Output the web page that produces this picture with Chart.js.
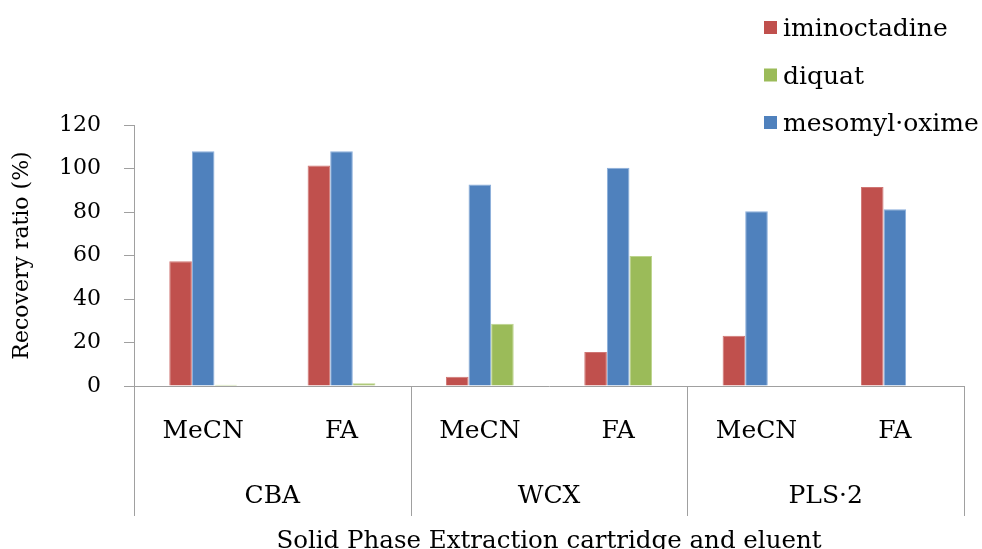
<!DOCTYPE html>
<html>
<head>
<meta charset="utf-8">
<script src="https://cdn.jsdelivr.net/npm/chart.js@4.4.1/dist/chart.umd.min.js"></script>
<style>
  html, body { margin: 0; padding: 0; background: #ffffff; }
  #wrap { width: 982px; height: 549px; position: relative; }
</style>
</head>
<body>
<div id="wrap"><canvas id="chart"></canvas></div>
<script>
// Eluent per bar group, and the cartridge each pair of eluents belongs to
const eluents = ['MeCN', 'FA', 'MeCN', 'FA', 'MeCN', 'FA'];
const cartridges = ['CBA', 'WCX', 'PLS·2'];

// Recovery ratio (%) per compound
const iminoctadine = [57.3, 101.4, 4.3, 15.6, 23.1, 91.5];
const mesomylOxime = [107.9, 107.9, 92.7, 100.3, 80.4, 81.3];
const diquat = [0.6, 1.3, 28.6, 59.8, null, null];

// Y axis range and tick step
const yMin = 0;
const yMax = 120;
const yStep = 20;

// Legend listing order
const legendOrder = ['iminoctadine', 'diquat', 'mesomyl·oxime'];

const FONT = '"DejaVu Serif", "Liberation Serif", serif';
const GRID = '#a0a0a0';

// Vertical separators between cartridges, running through both label rows
const dividerPlugin = {
  id: 'cartridgeDividers',
  afterDraw(chart) {
    const x = chart.scales.x;
    const ca = chart.chartArea;
    const ctx = chart.ctx;
    const half = (x.getPixelForValue(1) - x.getPixelForValue(0)) / 2;
    ctx.save();
    ctx.strokeStyle = GRID;
    ctx.lineWidth = 1;
    ctx.beginPath();
    for (let g = 0; g <= cartridges.length; g++) {
      const px = Math.round(x.getPixelForValue(g * 2) - half) + 0.5;
      ctx.moveTo(px, ca.bottom);
      ctx.lineTo(px, ca.bottom + 130);
    }
    ctx.stroke();
    ctx.restore();
  }
};

// Legend in the upper right corner, overlapping the plot's top edge
const legendPlugin = {
  id: 'cornerLegend',
  afterDraw(chart) {
    const ctx = chart.ctx;
    const sets = chart.data.datasets;
    ctx.save();
    ctx.font = '25px ' + FONT;
    ctx.textBaseline = 'alphabetic';
    ctx.textAlign = 'left';
    legendOrder.forEach((name, i) => {
      const ds = sets.find(d => d.label === name);
      const baseY = 36 + i * 47.5;
      ctx.fillStyle = ds.backgroundColor;
      ctx.fillRect(764, baseY - 15, 13, 13);
      ctx.fillStyle = '#000000';
      ctx.fillText(name, 783, baseY);
    });
    ctx.restore();
  }
};

new Chart(document.getElementById('chart'), {
  type: 'bar',
  data: {
    labels: eluents,
    datasets: [
      { label: 'iminoctadine', data: iminoctadine, backgroundColor: '#C0504D', borderColor: '#CF7573', borderWidth: 1, borderSkipped: 'bottom' },
      { label: 'mesomyl·oxime', data: mesomylOxime, backgroundColor: '#4F81BD', borderColor: '#8AAEDB', borderWidth: 1, borderSkipped: 'bottom' },
      { label: 'diquat', data: diquat, backgroundColor: '#9BBB59', borderColor: '#BCD48D', borderWidth: 1, borderSkipped: 'bottom' }
    ]
  },
  options: {
    responsive: true,
    maintainAspectRatio: false,
    animation: false,
    devicePixelRatio: 1,
    layout: { padding: { top: 125, right: 18, left: 0, bottom: 0 } },
    datasets: { bar: { categoryPercentage: 0.49, barPercentage: 1.0 } },
    plugins: {
      legend: { display: false },
      tooltip: { enabled: false }
    },
    scales: {
      x: {
        type: 'category',
        position: 'bottom',
        weight: 0,
        offset: true,
        grid: { display: false },
        border: { display: true, color: GRID, width: 1 },
        ticks: {
          font: { family: FONT, size: 25 },
          color: '#000000',
          padding: 22,
          maxRotation: 0,
          autoSkip: false
        },
        afterFit(s) { s.height = 80; }
      },
      x2: {
        type: 'category',
        labels: cartridges,
        position: 'bottom',
        weight: 1,
        offset: true,
        grid: { display: false },
        border: { display: false },
        ticks: {
          font: { family: FONT, size: 25 },
          color: '#000000',
          padding: 7,
          maxRotation: 0,
          autoSkip: false
        },
        title: {
          display: true,
          text: 'Solid Phase Extraction cartridge and eluent',
          font: { family: FONT, size: 24.5, lineHeight: 1 },
          color: '#000000',
          padding: { top: 0, bottom: -5 }
        },
        afterFit(s) { s.height = 83; }
      },
      y: {
        min: yMin,
        max: yMax,
        position: 'left',
        grid: {
          drawOnChartArea: false,
          drawTicks: true,
          tickLength: 10,
          color: GRID
        },
        border: { display: true, color: GRID, width: 1 },
        ticks: {
          stepSize: yStep,
          font: { family: FONT, size: 22 },
          color: '#000000',
          padding: 23
        },
        title: {
          display: true,
          text: 'Recovery ratio (%)',
          font: { family: FONT, size: 22, lineHeight: 1.2 },
          color: '#000000',
          padding: { top: 9, bottom: 0 }
        },
        afterFit(s) { s.width = 134; }
      }
    }
  },
  plugins: [dividerPlugin, legendPlugin]
});
</script>
</body>
</html>
